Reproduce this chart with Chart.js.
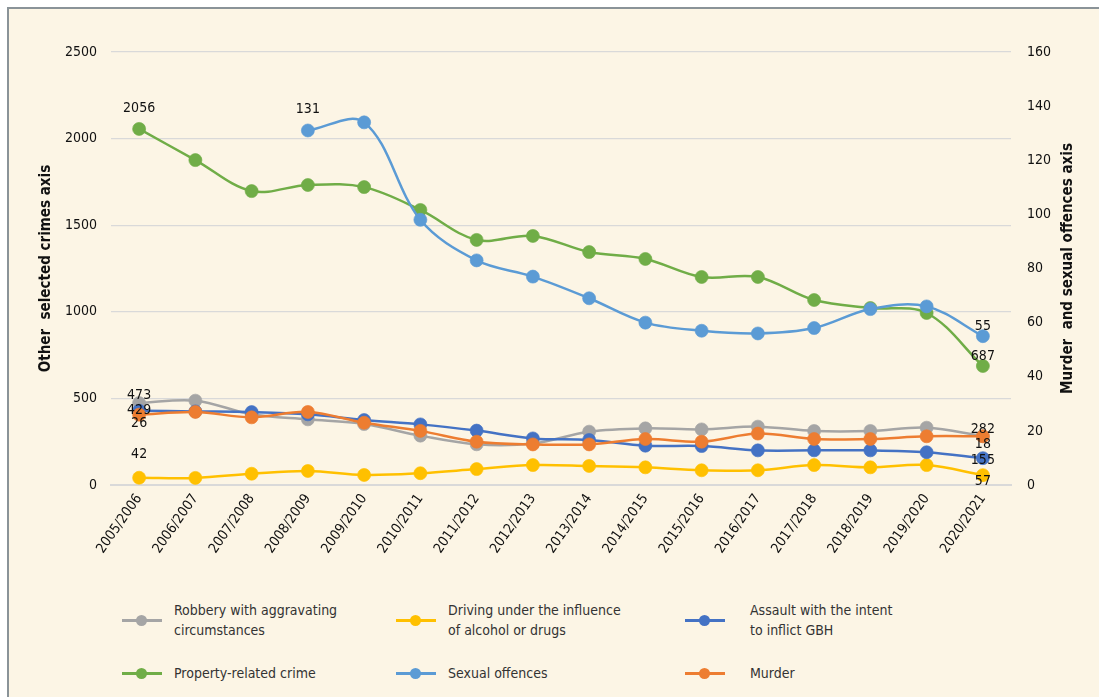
<!DOCTYPE html>
<html>
<head>
<meta charset="utf-8">
<script src="https://cdn.jsdelivr.net/npm/chart.js@4.4.0/dist/chart.umd.min.js"></script>
<style>
    html, body {
        margin: 0;
        padding: 0;
        background: #ffffff;
        overflow: hidden;
    }
    body {
        position: relative;
        width: 1099px;
        height: 697px;
        font-family: "DejaVu Sans Condensed", "Open Sans", sans-serif;
    }
    .frame {
        position: absolute;
        left: 7px;
        top: 7px;
        width: 1110px;
        height: 710px;
        background: #FCF5E5;
        border-left: 2px solid #8A9398;
        border-top: 2px solid #8A9398;
    }
    #chart-wrap {
        position: absolute;
        left: 0;
        top: 0;
        width: 1099px;
        height: 575px;
    }
    .legend-item {
        position: absolute;
        font-size: 14px;
        line-height: 20px;
        color: #333333;
        white-space: pre-line;
    }
    .legend-line {
        position: absolute;
        width: 40px;
        height: 3px;
    }
    .legend-dot {
        position: absolute;
        width: 11px;
        height: 11px;
        border-radius: 50%;
        left: 14px;
        top: -4px;
    }
</style>
</head>
<body>
<div class="frame"></div>
<div id="chart-wrap"><canvas id="main-chart"></canvas></div>
<div id="legend"></div>

<script>
const years = ['2005/2006', '2006/2007', '2007/2008', '2008/2009', '2009/2010', '2010/2011',
    '2011/2012', '2012/2013', '2013/2014', '2014/2015', '2015/2016', '2016/2017',
    '2017/2018', '2018/2019', '2019/2020', '2020/2021'];

// left axis series
const robbery = [473, 487, 408, 379, 352, 285, 235, 240, 308, 327, 321, 337, 312, 312, 331, 282];
const drunkDriving = [42, 41, 65, 81, 58, 68, 92, 115, 110, 102, 85, 85, 115, 102, 115, 57];
const assaultGbh = [429, 425, 421, 408, 375, 350, 314, 269, 260, 227, 225, 200, 200, 200, 189, 155];
const propertyCrime = [2056, 1876, 1697, 1732, 1720, 1588, 1415, 1438, 1345, 1305, 1201, 1201, 1068, 1022, 993, 687];

// right axis series
const sexualOffences = [null, null, null, 131, 134, 98, 83, 77, 69, 60, 57, 56, 58, 65, 66, 55];
const murder = [26, 27, 25, 27, 23, 20, 16, 15, 15, 17, 16, 19, 17, 17, 18, 18];

const leftTicks = [0, 500, 1000, 1500, 2000, 2500];
const rightTicks = [0, 20, 40, 60, 80, 100, 120, 140, 160];

const seriesNames = [
    'Robbery with aggravating\ncircumstances',
    'Driving under the influence\nof alcohol or drugs',
    'Assault with the intent\nto inflict GBH',
    'Property-related crime',
    'Sexual offences',
    'Murder'
];
const seriesData = [robbery, drunkDriving, assaultGbh, propertyCrime, sexualOffences, murder];
const seriesAxis = ['y', 'y', 'y', 'y', 'y2', 'y2'];
const seriesColors = ['#A5A5A5', '#FFC000', '#4472C4', '#70AD47', '#5B9BD5', '#ED7D31'];

// vertical offsets of the first / last value labels
const labelOffsets = [[-8, -7], [-23, 6], [0, 2], [-21, -10], [-21, -10], [9, 8]];

const FONT = '"DejaVu Sans Condensed", "Open Sans", sans-serif';

const endLabels = {
    id: 'endLabels',
    afterDatasetsDraw(chart) {
        const ctx = chart.ctx;
        ctx.save();
        ctx.font = '14px ' + FONT;
        ctx.fillStyle = '#111111';
        ctx.textAlign = 'center';
        ctx.textBaseline = 'middle';
        chart.data.datasets.forEach((ds, i) => {
            const meta = chart.getDatasetMeta(i);
            const idx = ds.data.map((v, k) => v === null ? -1 : k).filter(k => k >= 0);
            const ends = [idx[0], idx[idx.length - 1]];
            ends.forEach((k, j) => {
                const pt = meta.data[k];
                ctx.fillText(String(ds.data[k]), pt.x, pt.y + labelOffsets[i][j]);
            });
        });
        ctx.restore();
    }
};

// right axis title reads bottom to top, like the left one
const rightTitle = {
    id: 'rightTitle',
    afterDraw(chart) {
        const ctx = chart.ctx;
        const area = chart.chartArea;
        ctx.save();
        ctx.font = 'bold 15px ' + FONT;
        ctx.fillStyle = '#111111';
        ctx.textAlign = 'center';
        ctx.textBaseline = 'middle';
        ctx.translate(1068, (area.top + area.bottom) / 2);
        ctx.rotate(-Math.PI / 2);
        ctx.fillText('Murder  and sexual offences axis', 0, 0);
        ctx.restore();
    }
};

const datasets = seriesData.map((data, i) => ({
    label: seriesNames[i].replace('\n', ' '),
    data: data,
    yAxisID: seriesAxis[i],
    borderColor: seriesColors[i],
    backgroundColor: seriesColors[i],
    pointBackgroundColor: seriesColors[i],
    pointBorderColor: seriesColors[i] + 'AA',
    pointBorderWidth: 1,
    pointRadius: 6.5,
    borderWidth: 2.5,
    tension: 0.35,
    fill: false,
    order: seriesData.length - i
}));

const ctx = document.getElementById('main-chart').getContext('2d');
const chart = new Chart(ctx, {
    type: 'line',
    data: { labels: years, datasets: datasets },
    options: {
        responsive: true,
        maintainAspectRatio: false,
        animation: false,
        layout: { padding: { top: 52, right: 0, bottom: 0, left: 0 } },
        plugins: {
            legend: { display: false },
            tooltip: { enabled: false }
        },
        scales: {
            x: {
                offset: true,
                grid: { display: false, drawTicks: false },
                border: { display: true, color: '#D9D9D9', width: 2 },
                ticks: {
                    minRotation: 55,
                    maxRotation: 55,
                    padding: 6,
                    color: '#111111',
                    font: { family: FONT, size: 14 }
                },
                afterFit: (scale) => { scale.height = 90; }
            },
            y: {
                position: 'left',
                min: 0,
                max: 2500,
                afterBuildTicks: (scale) => { scale.ticks = leftTicks.map(v => ({ value: v })); },
                grid: { color: '#D9D9D9', lineWidth: 1.3, drawTicks: false },
                border: { display: false },
                ticks: {
                    padding: 14,
                    color: '#111111',
                    font: { family: FONT, size: 14 },
                    callback: (value) => String(value)
                },
                title: {
                    display: true,
                    text: 'Other  selected crimes axis',
                    color: '#111111',
                    font: { family: FONT, size: 15, weight: 'bold' },
                    padding: { top: 37, bottom: 0 }
                },
                afterFit: (scale) => { scale.width = 111; }
            },
            y2: {
                position: 'right',
                min: 0,
                max: 160,
                afterBuildTicks: (scale) => { scale.ticks = rightTicks.map(v => ({ value: v })); },
                grid: { display: false, drawTicks: false },
                border: { display: false },
                ticks: {
                    padding: 16,
                    color: '#111111',
                    font: { family: FONT, size: 14 },
                    callback: (value) => String(value)
                },
                afterFit: (scale) => { scale.width = 88; }
            }
        }
    },
    plugins: [endLabels, rightTitle]
});

// legend: three columns, two rows
const legendCols = [174, 448, 750];
const legendSymbolGap = [52, 52, 65];
const legendRows = [600, 663];
const legendEl = document.getElementById('legend');
seriesNames.forEach((name, i) => {
    const col = i % 3;
    const item = document.createElement('div');
    item.className = 'legend-item';
    item.style.left = legendCols[col] + 'px';
    item.style.top = legendRows[Math.floor(i / 3)] + 'px';
    item.textContent = name;

    const lines = name.split('\n').length;
    const sym = document.createElement('div');
    sym.className = 'legend-line';
    sym.style.background = seriesColors[i];
    sym.style.left = -legendSymbolGap[col] + 'px';
    sym.style.top = (lines * 10 - 1) + 'px';
    const dot = document.createElement('div');
    dot.className = 'legend-dot';
    dot.style.background = seriesColors[i];
    sym.appendChild(dot);
    item.appendChild(sym);
    legendEl.appendChild(item);
});
</script>
</body>
</html>
